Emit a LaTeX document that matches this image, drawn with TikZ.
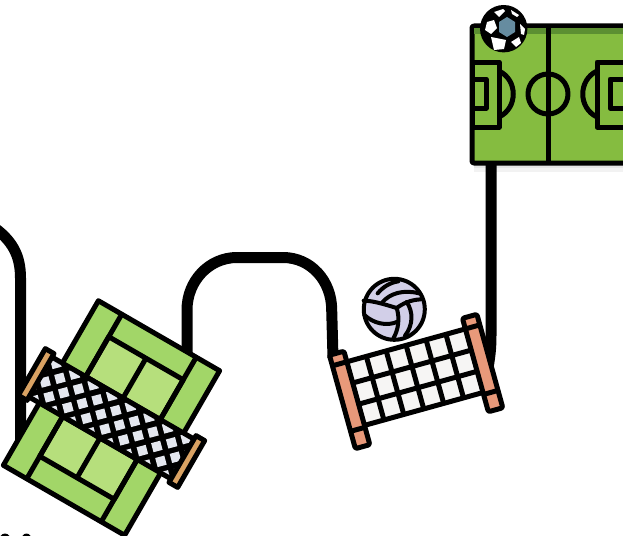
\documentclass[tikz,border=0pt]{standalone}
\usepackage{tikz}
\usepackage{xcolor}
\definecolor{fieldgreen}{HTML}{85BC40}
\definecolor{fieldband}{HTML}{5C8F32}
\definecolor{ballblue}{HTML}{668CA0}
\definecolor{netwhite}{HTML}{F6F5F4}
\definecolor{postsalmon}{HTML}{E8997A}
\definecolor{balllilac}{HTML}{D2CFE8}
\definecolor{courtgreen}{HTML}{A2D668}
\definecolor{courtlight}{HTML}{B6DF7C}
\definecolor{cellgrey}{HTML}{E4E7EF}
\definecolor{postwood}{HTML}{D9A263}
\begin{document}
\begin{tikzpicture}[
  x=1pt, y=-1pt,
  track/.style={draw=black, line width=11pt},
  icon/.style={draw=black, line width=5pt, line join=round},
  seam/.style={draw=black, line width=4pt, line cap=round},
  patch/.style={fill=white},
]
\useasboundingbox (0,0) rectangle (623,535);
\clip (0,0) rectangle (623,535);

% Field shadow
\fill[black!5] (474,163) rectangle (623,172);
\fill[black!10] (474,163) rectangle (623,168);

% Track
\draw[track] (-8,226) .. controls (12,240) and (20.5,255) .. (20.5,278) -- (20.5,445);
\draw[track] (187,360) -- (187,310) .. controls (187,281) and (209,257.5) .. (237,257.5)
  -- (283,257.5) .. controls (311,257.5) and (331.7,281) .. (331.7,310) -- (333,358);
\draw[track] (491,160) -- (491,335) .. controls (491,348) and (490,356) .. (488,368);

% Football field
\draw[icon, fill=fieldgreen, rounded corners=2pt] (472,26) rectangle (640,163);
\fill[fieldband] (474,28) rectangle (623,34);
\draw[icon] (548,26) -- (548,163);
\draw[icon] (548,94) circle (20);
\draw[icon, fill=fieldgreen] (499,71) .. controls (518,80) and (518,108) .. (499,117);
\draw[icon, fill=fieldgreen] (472,62) rectangle (499,127);
\draw[icon] (472,79) rectangle (486,108);
\draw[icon, fill=fieldgreen] (597,71) .. controls (578,80) and (578,108) .. (597,117);
\draw[icon, fill=fieldgreen] (597,62) rectangle (640,127);
\draw[icon] (610,79) rectangle (640,108);

% Football
\fill[black] (503.7,28.7) circle (23.7);
\fill[ballblue] (507,17) -- (515,22) -- (515,32) -- (507,37) -- (499,32) -- (499,22) -- cycle;
\fill[patch] (487,22) -- (494,20) -- (497,28) -- (491,34) -- (485,30) -- cycle;
\fill[patch] (494,12) -- (503,9) -- (505,11) -- (499,17) -- cycle;
\fill[patch] (511,10) -- (519,15) -- (517,17) -- (512,14) -- cycle;
\fill[patch] (491,37) -- (506,40) -- (504,49) -- (494,50) -- cycle;
\fill[patch] (511,42) -- (519,37) -- (521,43) -- (516,47) -- cycle;
\fill[patch] (520,24) -- (525,29) -- (524,35) -- (521,34) -- cycle;

% Volleyball net
\begin{scope}[shift={(416,381)}, rotate=15.5]
  \draw[icon, fill=netwhite] (-62,-37) rectangle (62,29);
  \foreach \gx in {-41.3,-20.7,0,20.7,41.3}
    \draw[icon] (\gx,-37) -- (\gx,29);
  \foreach \gy in {-15,7}
    \draw[icon] (-62,\gy) -- (62,\gy);
  \foreach \px in {-69,69} {
    \draw[icon, fill=postsalmon, rounded corners=2pt] (\px-7.5,-48) rectangle (\px+7.5,49);
    \draw[icon] (\px-7.5,-37) -- (\px+7.5,-37);
    \draw[icon] (\px-7.5,31) -- (\px+7.5,31);
  }
\end{scope}

% Volleyball
\draw[icon, line width=4pt, fill=balllilac] (394.3,309.3) circle (30.5);
\begin{scope}[shift={(355,270)}, x=0.3333pt, y=-0.3333pt]
  \draw[seam] (68,70) .. controls (85,50) and (105,38) .. (130,34);
  \draw[seam] (26,92) .. controls (55,92) and (95,105) .. (125,114);
  \draw[seam] (82,97) .. controls (105,70) and (145,58) .. (192,70);
  \draw[seam] (125,114) .. controls (145,100) and (165,90) .. (197,88);
  \draw[seam] (125,114) .. controls (135,145) and (130,180) .. (115,205);
  \draw[seam] (155,96) .. controls (175,125) and (175,165) .. (150,197);
  \draw[seam] (28,135) .. controls (55,160) and (95,170) .. (128,155);
\end{scope}

% Tennis court
\begin{scope}[shift={(111.5,418)}, rotate=-30]
  \draw[icon, fill=courtgreen] (-70,-95) rectangle (70,95);
  \draw[icon, fill=courtlight] (-43,-69) rectangle (43,-23);
  \draw[icon, fill=courtlight] (-43,23) rectangle (43,69);
  \draw[icon] (-43,-95) -- (-43,95);
  \draw[icon] (43,-95) -- (43,95);
  \draw[icon] (0,-69) -- (0,69);
  % Tennis net
  \begin{scope}
    \clip (-84,-23) rectangle (84,23);
    \fill[black] (-84,-23) rectangle (84,23);
    \foreach \ny/\nx in {-19.5/-54,-8.6/-64.5,2/-54,12.8/-64.5,23.5/-54}
      \foreach \k in {-1,...,7}
        \fill[cellgrey, shift={(\nx+21.5*\k,\ny)}, rotate=45] (-4.7,-4.7) rectangle (4.7,4.7);
  \end{scope}
  \draw[icon] (-84,-23) -- (84,-23);
  \draw[icon] (-84,23) -- (84,23);
  \foreach \px in {-87,87}
    \draw[icon, fill=postwood] (\px-5,-27) rectangle (\px+5,27);
\end{scope}

% Bottom edge
\fill[black] (5,541) ellipse (6 and 7.5);
\fill[black] (26.5,541) ellipse (5.5 and 7.5);
\end{tikzpicture}
\end{document}
